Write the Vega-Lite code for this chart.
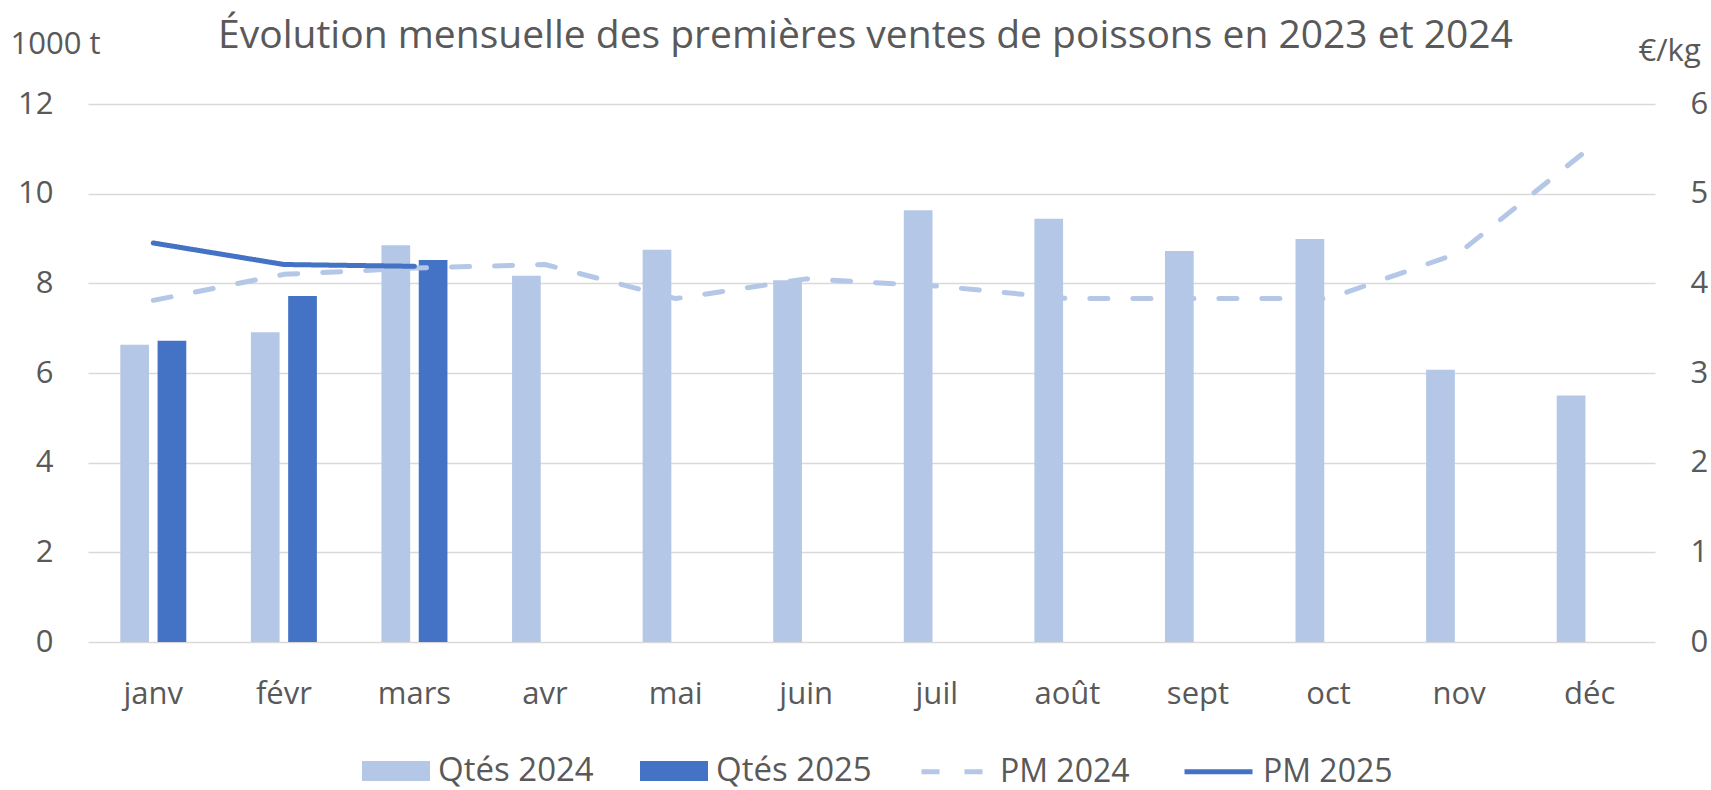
{
  "$schema": "https://vega.github.io/schema/vega-lite/v6.json",
  "autosize": {"type": "none"},
  "padding": {"left": 88, "top": 104, "right": 56, "bottom": 148},
  "width": 1567,
  "height": 538,
  "background": "white",
  "config": {"font": "Open Sans", "view": {"stroke": null}},
  "title": {
    "text": "Évolution mensuelle des premières ventes de poissons en 2023 et 2024",
    "fontSize": 39, "fontWeight": "normal", "color": "#595959",
    "anchor": "middle", "frame": "group", "baseline": "alphabetic", "offset": -18, "dx": -6, "dy": 41
  },
  "datasets": {
    "qtes": [
      {"mois": "janv", "serie": "Qtés 2024", "valeur": 6.63},
      {"mois": "févr", "serie": "Qtés 2024", "valeur": 6.91},
      {"mois": "mars", "serie": "Qtés 2024", "valeur": 8.85},
      {"mois": "avr", "serie": "Qtés 2024", "valeur": 8.17},
      {"mois": "mai", "serie": "Qtés 2024", "valeur": 8.75},
      {"mois": "juin", "serie": "Qtés 2024", "valeur": 8.07},
      {"mois": "juil", "serie": "Qtés 2024", "valeur": 9.63},
      {"mois": "août", "serie": "Qtés 2024", "valeur": 9.44},
      {"mois": "sept", "serie": "Qtés 2024", "valeur": 8.72},
      {"mois": "oct", "serie": "Qtés 2024", "valeur": 8.99},
      {"mois": "nov", "serie": "Qtés 2024", "valeur": 6.07},
      {"mois": "déc", "serie": "Qtés 2024", "valeur": 5.50},
      {"mois": "janv", "serie": "Qtés 2025", "valeur": 6.72},
      {"mois": "févr", "serie": "Qtés 2025", "valeur": 7.72},
      {"mois": "mars", "serie": "Qtés 2025", "valeur": 8.52}
    ],
    "pm": [
      {"mois": "janv", "serie": "PM 2024", "prix": 3.81},
      {"mois": "févr", "serie": "PM 2024", "prix": 4.10},
      {"mois": "mars", "serie": "PM 2024", "prix": 4.17},
      {"mois": "avr", "serie": "PM 2024", "prix": 4.21},
      {"mois": "mai", "serie": "PM 2024", "prix": 3.83},
      {"mois": "juin", "serie": "PM 2024", "prix": 4.05},
      {"mois": "juil", "serie": "PM 2024", "prix": 3.97},
      {"mois": "août", "serie": "PM 2024", "prix": 3.83},
      {"mois": "sept", "serie": "PM 2024", "prix": 3.83},
      {"mois": "oct", "serie": "PM 2024", "prix": 3.83},
      {"mois": "nov", "serie": "PM 2024", "prix": 4.34},
      {"mois": "déc", "serie": "PM 2024", "prix": 5.51},
      {"mois": "janv", "serie": "PM 2025", "prix": 4.45},
      {"mois": "févr", "serie": "PM 2025", "prix": 4.21},
      {"mois": "mars", "serie": "PM 2025", "prix": 4.19}
    ]
  },
  "layer": [
    {
      "data": {"name": "qtes"},
      "mark": {"type": "bar"},
      "encoding": {
        "x": {
          "field": "mois", "type": "ordinal",
          "sort": ["janv", "févr", "mars", "avr", "mai", "juin", "juil", "août", "sept", "oct", "nov", "déc"],
          "scale": {"paddingInner": 0.4946, "paddingOuter": 0.2473},
          "axis": {"title": null, "labelAngle": 0, "labelFontSize": 31, "labelColor": "#595959", "labelPadding": 37, "ticks": false, "domain": false, "grid": false}
        },
        "xOffset": {"field": "serie", "type": "nominal", "scale": {"paddingInner": 0.23, "paddingOuter": 0}},
        "y": {
          "field": "valeur", "type": "quantitative",
          "scale": {"domain": [0, 12], "nice": false},
          "axis": {
            "title": "1000 t", "titleAngle": 0, "titleAlign": "left", "titleBaseline": "middle",
            "titleX": -78, "titleY": -60, "titleFontSize": 31, "titleFontWeight": "normal", "titleColor": "#595959",
            "values": [0, 2, 4, 6, 8, 10, 12], "labelFontSize": 31, "labelColor": "#595959", "labelPadding": 35,
            "ticks": false, "domain": false, "grid": true, "gridColor": "#D9D9D9", "gridWidth": 1.5
          }
        },
        "color": {
          "field": "serie", "type": "nominal",
          "scale": {"domain": ["Qtés 2024", "Qtés 2025"], "range": ["#B4C7E7", "#4472C4"]},
          "legend": {
            "orient": "none", "legendX": 274, "legendY": 633, "direction": "horizontal", "columns": 2,
            "title": null, "symbolSize": 4624, "symbolType": "M-1,-0.294H1V0.294H-1Z", "symbolStrokeWidth": 0,
            "labelFontSize": 33, "labelColor": "#595959", "labelOffset": 8, "columnPadding": 46
          }
        }
      }
    },
    {
      "data": {"name": "pm"},
      "mark": {"type": "line", "strokeWidth": 5, "strokeCap": "round", "strokeJoin": "round"},
      "encoding": {
        "x": {"field": "mois", "type": "ordinal", "sort": ["janv", "févr", "mars", "avr", "mai", "juin", "juil", "août", "sept", "oct", "nov", "déc"]},
        "y": {
          "field": "prix", "type": "quantitative",
          "scale": {"domain": [0, 6], "nice": false},
          "axis": {
            "orient": "right", "title": "€/kg", "titleAngle": 0, "titleAlign": "left", "titleBaseline": "middle",
            "titleX": -17, "titleY": -53, "titleFontSize": 31, "titleFontWeight": "normal", "titleColor": "#595959",
            "values": [0, 1, 2, 3, 4, 5, 6], "labelFontSize": 31, "labelColor": "#595959", "labelPadding": 35,
            "ticks": false, "domain": false, "grid": false
          }
        },
        "stroke": {
          "field": "serie", "type": "nominal",
          "scale": {"domain": ["PM 2024", "PM 2025"], "range": ["#B4C7E7", "#4472C4"]},
          "legend": {
            "orient": "none", "legendX": 831, "legendY": 631, "direction": "horizontal", "columns": 2,
            "title": null, "symbolSize": 4624, "symbolType": "stroke", "symbolStrokeWidth": 5,
            "labelFontSize": 32, "labelColor": "#595959", "labelOffset": 8, "columnPadding": 44
          }
        },
        "strokeDash": {
          "field": "serie", "type": "nominal",
          "scale": {"domain": ["PM 2024", "PM 2025"], "range": [[18, 25], [1, 0]]},
          "legend": {
            "orient": "none", "legendX": 831, "legendY": 631, "direction": "horizontal", "columns": 2,
            "title": null, "symbolSize": 4624, "symbolType": "stroke", "symbolStrokeWidth": 5,
            "labelFontSize": 32, "labelColor": "#595959", "labelOffset": 8, "columnPadding": 44
          }
        }
      }
    }
  ],
  "resolve": {"scale": {"y": "independent"}}
}
